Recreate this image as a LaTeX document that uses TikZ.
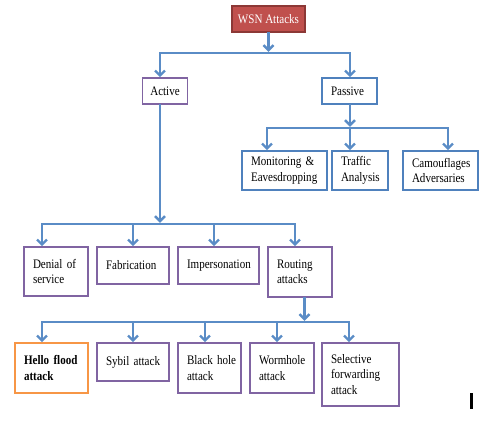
\documentclass[tikz,border=0pt]{standalone}
\usepackage{fontspec}
\setmainfont{Liberation Serif}[FakeStretch=0.85]
\usetikzlibrary{arrows.meta, positioning}

\definecolor{linkblue}{RGB}{90,140,198}
\definecolor{boxpurple}{RGB}{128,100,162}
\definecolor{boxblue}{RGB}{79,129,189}
\definecolor{boxorange}{RGB}{247,150,70}
\definecolor{rootfill}{RGB}{192,80,77}
\definecolor{rootdraw}{RGB}{140,56,54}

\newcommand{\blockfont}{\fontsize{13}{15.5}\selectfont\hyphenpenalty=10000\relax}

\begin{document}
\begin{tikzpicture}[x=1pt, y=-1pt,
    block/.style={rectangle, draw=#1, line width=1.6pt, fill=white, align=left, inner xsep=9pt, inner ysep=2pt, font=\blockfont},
    dims/.style 2 args={text width=#1, minimum height=#2},
    line/.style={draw=linkblue, line width=2.4pt, line cap=rect},
    arrow/.style={line, -{Straight Barb[length=5pt, width=10pt]}}]

    \useasboundingbox (0,0) rectangle (480,432);

    % Layer 1: Root
    \node [block=rootdraw, fill=rootfill, text=white, align=center, inner xsep=0pt, minimum width=73pt, minimum height=26pt] (wsn) at (268.5,19) {WSN Attacks};

    % Layer 2: Attack classes
    \node [block=boxpurple, align=center, inner xsep=0pt, minimum width=45pt, minimum height=26pt] (active) at (165,91) {Active};
    \node [block=boxblue, dims={37pt}{26pt}] (passive) at (349.5,91) {Passive};

    % Layer 3: Passive attacks
    \node [block=boxblue, dims={67pt}{39pt}] (monitor) at (284.5,170.5) {Monitoring \&\\Eavesdropping};
    \node [block=boxblue, dims={38pt}{39pt}] (traffic) at (360,170.5) {Traffic\\Analysis};
    \node [block=boxblue, dims={57pt}{39pt}] (camo) at (440.5,170.5) {Camouflages\\Adversaries};

    % Layer 4: Active attacks
    \node [block=boxpurple, dims={46pt}{49pt}] (denial) at (56,271.5) {Denial of\\service};
    \node [block=boxpurple, dims={54pt}{37pt}] (fabric) at (133,265.5) {Fabrication};
    \node [block=boxpurple, dims={63pt}{37pt}] (imperson) at (218.5,265.5) {Impersonation};
    \node [block=boxpurple, dims={46pt}{50pt}] (routing) at (300,272) {Routing\\attacks};

    % Layer 5: Routing attacks
    \node [block=boxorange, dims={55pt}{50pt}] (hello) at (51.5,368) {\bfseries\mbox{Hello flood}\\attack};
    \node [block=boxpurple, dims={54pt}{38pt}] (sybil) at (133,362) {\mbox{Sybil attack}};
    \node [block=boxpurple, dims={45pt}{50pt}] (blackhole) at (209.5,368) {\mbox{Black hole}\\attack};
    \node [block=boxpurple, dims={46pt}{50pt}] (wormhole) at (282,368) {Wormhole\\attack};
    \node [block=boxpurple, dims={59pt}{63pt}] (selective) at (360.5,374.5) {Selective\\forwarding\\attack};

    % Bus points
    \coordinate (b1l) at (160,53);
    \coordinate (b1r) at (350,53);
    \foreach \x/\n in {267/monitor, 350/traffic, 448/camo}
        \coordinate (j\n) at (\x,128);
    \foreach \x/\n in {42/denial, 133/fabric, 214/imperson, 295/routing}
        \coordinate (j\n) at (\x,224);
    \foreach \x/\n in {42/hello, 133/sybil, 205/blackhole, 277/wormhole, 349/selective}
        \coordinate (j\n) at (\x,322);
    \coordinate (rt) at ([xshift=4.5pt]routing.south);

    % Paths
    \path [arrow, shorten >=1.2pt] (wsn.south) -- (wsn.south |- b1l);
    \path [line] (b1l) -- (b1r);
    \path [arrow] (b1l) -- (b1l |- active.north);
    \path [arrow] (b1r) -- (b1r |- passive.north);

    \path [arrow, shorten >=1.2pt] (b1r |- passive.south) -- (b1r |- jmonitor);
    \path [line] (jmonitor) -- (jcamo);
    \foreach \n in {monitor, traffic, camo}
        \path [arrow] (j\n) -- (j\n |- \n.north);

    \path [arrow, shorten >=1.2pt] (b1l |- active.south) -- (b1l |- jdenial);
    \path [line] (jdenial) -- (jrouting);
    \foreach \n in {denial, fabric, imperson, routing}
        \path [arrow] (j\n) -- (j\n |- \n.north);

    \path [arrow, shorten >=1.2pt] (rt) -- (rt |- jhello);
    \path [line] (jhello) -- (jselective);
    \foreach \n in {hello, sybil, blackhole, wormhole, selective}
        \path [arrow] (j\n) -- (j\n |- \n.north);

    % Cursor mark
    \fill (470,393) rectangle (472.5,409);
\end{tikzpicture}
\end{document}
